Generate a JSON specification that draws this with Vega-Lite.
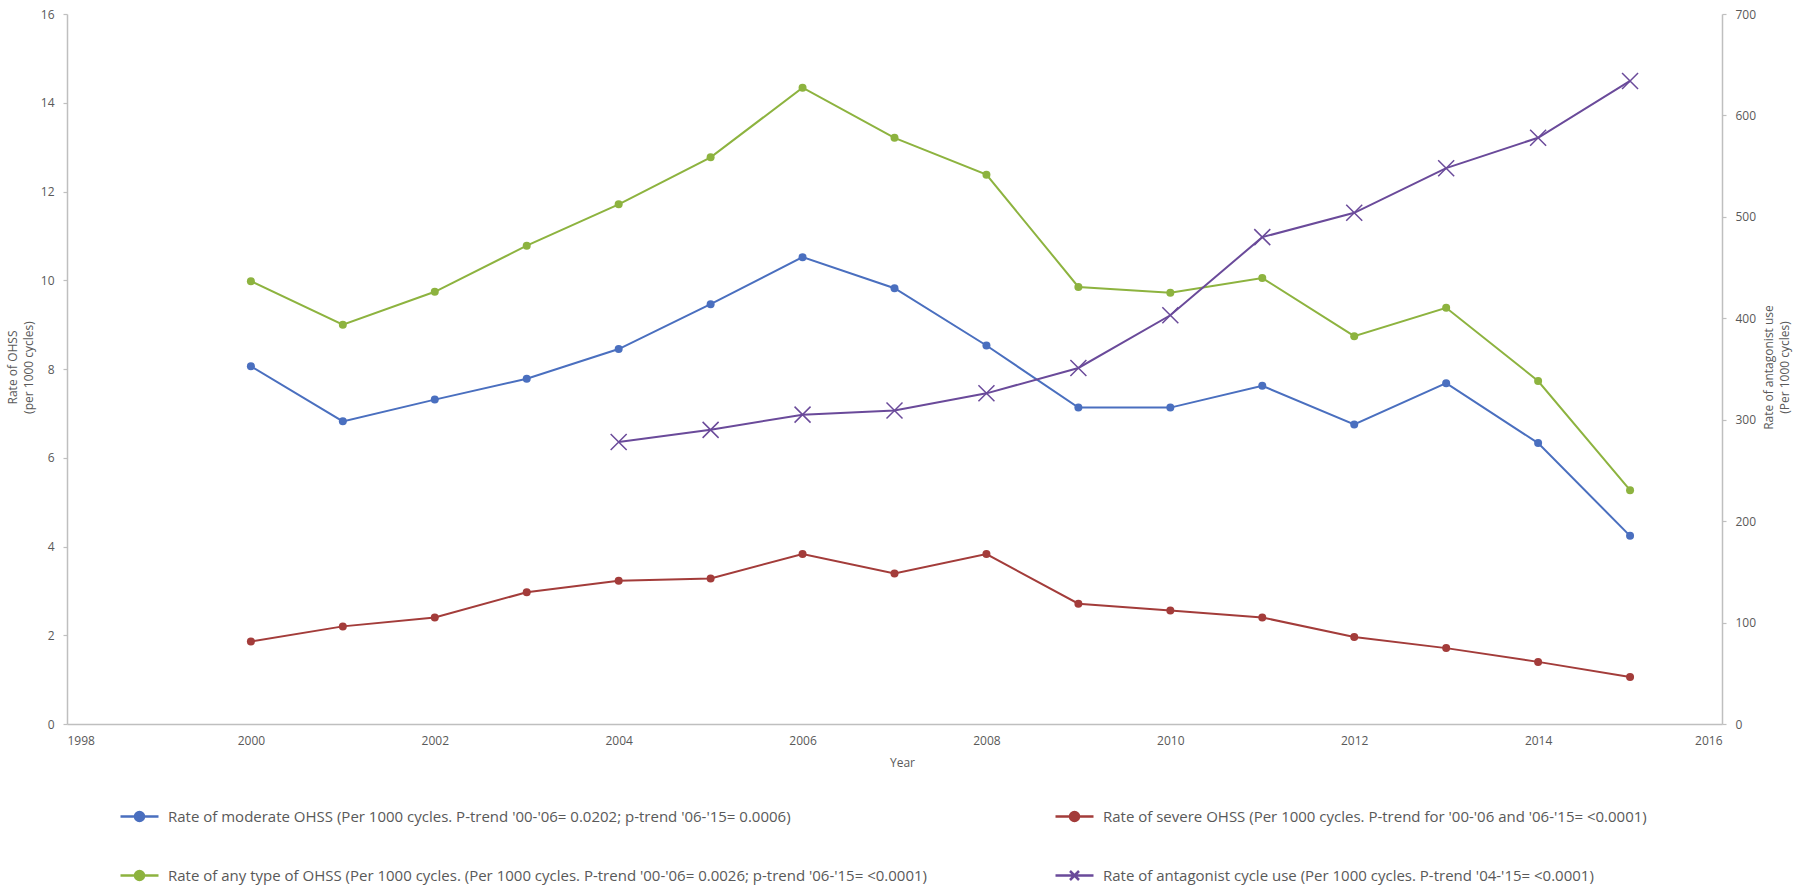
{
  "$schema": "https://vega.github.io/schema/vega-lite/v6.json",
  "width": 1655,
  "height": 710,
  "autosize": "none",
  "padding": {"left": 67, "top": 14, "right": 78, "bottom": 171},
  "background": "white",
  "config": {
    "view": {"stroke": null},
    "font": "Open Sans",
    "axis": {
      "domainColor": "#bfbfbf",
      "domainWidth": 1.5,
      "tickColor": "#bfbfbf",
      "tickWidth": 1.2,
      "labelFont": "Open Sans",
      "labelFontSize": 12,
      "labelColor": "#595959",
      "titleFont": "Open Sans",
      "titleFontSize": 12,
      "titleFontWeight": "normal",
      "titleColor": "#595959",
      "grid": false
    },
    "legend": {
      "columnPadding": 123,
      "rowPadding": 38,
      "padding": 0,
      "symbolSize": 400,
      "symbolStrokeWidth": 2.5,
      "labelOffset": 17,
      "labelFont": "Open Sans",
      "labelFontSize": 15,
      "labelColor": "#595959",
      "labelLimit": 2000
    }
  },
  "datasets": {
    "ohss": [
      {"year": 2000, "series": "Rate of moderate OHSS (Per 1000 cycles. P-trend '00-'06= 0.0202; p-trend '06-'15= 0.0006)", "rate": 8.06},
      {"year": 2001, "series": "Rate of moderate OHSS (Per 1000 cycles. P-trend '00-'06= 0.0202; p-trend '06-'15= 0.0006)", "rate": 6.82},
      {"year": 2002, "series": "Rate of moderate OHSS (Per 1000 cycles. P-trend '00-'06= 0.0202; p-trend '06-'15= 0.0006)", "rate": 7.31},
      {"year": 2003, "series": "Rate of moderate OHSS (Per 1000 cycles. P-trend '00-'06= 0.0202; p-trend '06-'15= 0.0006)", "rate": 7.78},
      {"year": 2004, "series": "Rate of moderate OHSS (Per 1000 cycles. P-trend '00-'06= 0.0202; p-trend '06-'15= 0.0006)", "rate": 8.45},
      {"year": 2005, "series": "Rate of moderate OHSS (Per 1000 cycles. P-trend '00-'06= 0.0202; p-trend '06-'15= 0.0006)", "rate": 9.46},
      {"year": 2006, "series": "Rate of moderate OHSS (Per 1000 cycles. P-trend '00-'06= 0.0202; p-trend '06-'15= 0.0006)", "rate": 10.52},
      {"year": 2007, "series": "Rate of moderate OHSS (Per 1000 cycles. P-trend '00-'06= 0.0202; p-trend '06-'15= 0.0006)", "rate": 9.82},
      {"year": 2008, "series": "Rate of moderate OHSS (Per 1000 cycles. P-trend '00-'06= 0.0202; p-trend '06-'15= 0.0006)", "rate": 8.53},
      {"year": 2009, "series": "Rate of moderate OHSS (Per 1000 cycles. P-trend '00-'06= 0.0202; p-trend '06-'15= 0.0006)", "rate": 7.13},
      {"year": 2010, "series": "Rate of moderate OHSS (Per 1000 cycles. P-trend '00-'06= 0.0202; p-trend '06-'15= 0.0006)", "rate": 7.13},
      {"year": 2011, "series": "Rate of moderate OHSS (Per 1000 cycles. P-trend '00-'06= 0.0202; p-trend '06-'15= 0.0006)", "rate": 7.62},
      {"year": 2012, "series": "Rate of moderate OHSS (Per 1000 cycles. P-trend '00-'06= 0.0202; p-trend '06-'15= 0.0006)", "rate": 6.75},
      {"year": 2013, "series": "Rate of moderate OHSS (Per 1000 cycles. P-trend '00-'06= 0.0202; p-trend '06-'15= 0.0006)", "rate": 7.68},
      {"year": 2014, "series": "Rate of moderate OHSS (Per 1000 cycles. P-trend '00-'06= 0.0202; p-trend '06-'15= 0.0006)", "rate": 6.33},
      {"year": 2015, "series": "Rate of moderate OHSS (Per 1000 cycles. P-trend '00-'06= 0.0202; p-trend '06-'15= 0.0006)", "rate": 4.24},
      {"year": 2000, "series": "Rate of severe OHSS (Per 1000 cycles. P-trend for '00-'06 and '06-'15= <0.0001)", "rate": 1.86},
      {"year": 2001, "series": "Rate of severe OHSS (Per 1000 cycles. P-trend for '00-'06 and '06-'15= <0.0001)", "rate": 2.2},
      {"year": 2002, "series": "Rate of severe OHSS (Per 1000 cycles. P-trend for '00-'06 and '06-'15= <0.0001)", "rate": 2.4},
      {"year": 2003, "series": "Rate of severe OHSS (Per 1000 cycles. P-trend for '00-'06 and '06-'15= <0.0001)", "rate": 2.97},
      {"year": 2004, "series": "Rate of severe OHSS (Per 1000 cycles. P-trend for '00-'06 and '06-'15= <0.0001)", "rate": 3.23},
      {"year": 2005, "series": "Rate of severe OHSS (Per 1000 cycles. P-trend for '00-'06 and '06-'15= <0.0001)", "rate": 3.28},
      {"year": 2006, "series": "Rate of severe OHSS (Per 1000 cycles. P-trend for '00-'06 and '06-'15= <0.0001)", "rate": 3.83},
      {"year": 2007, "series": "Rate of severe OHSS (Per 1000 cycles. P-trend for '00-'06 and '06-'15= <0.0001)", "rate": 3.39},
      {"year": 2008, "series": "Rate of severe OHSS (Per 1000 cycles. P-trend for '00-'06 and '06-'15= <0.0001)", "rate": 3.83},
      {"year": 2009, "series": "Rate of severe OHSS (Per 1000 cycles. P-trend for '00-'06 and '06-'15= <0.0001)", "rate": 2.71},
      {"year": 2010, "series": "Rate of severe OHSS (Per 1000 cycles. P-trend for '00-'06 and '06-'15= <0.0001)", "rate": 2.56},
      {"year": 2011, "series": "Rate of severe OHSS (Per 1000 cycles. P-trend for '00-'06 and '06-'15= <0.0001)", "rate": 2.4},
      {"year": 2012, "series": "Rate of severe OHSS (Per 1000 cycles. P-trend for '00-'06 and '06-'15= <0.0001)", "rate": 1.96},
      {"year": 2013, "series": "Rate of severe OHSS (Per 1000 cycles. P-trend for '00-'06 and '06-'15= <0.0001)", "rate": 1.71},
      {"year": 2014, "series": "Rate of severe OHSS (Per 1000 cycles. P-trend for '00-'06 and '06-'15= <0.0001)", "rate": 1.4},
      {"year": 2015, "series": "Rate of severe OHSS (Per 1000 cycles. P-trend for '00-'06 and '06-'15= <0.0001)", "rate": 1.06},
      {"year": 2000, "series": "Rate of any type of OHSS (Per 1000 cycles. (Per 1000 cycles. P-trend '00-'06= 0.0026; p-trend '06-'15= <0.0001)", "rate": 9.98},
      {"year": 2001, "series": "Rate of any type of OHSS (Per 1000 cycles. (Per 1000 cycles. P-trend '00-'06= 0.0026; p-trend '06-'15= <0.0001)", "rate": 9.0},
      {"year": 2002, "series": "Rate of any type of OHSS (Per 1000 cycles. (Per 1000 cycles. P-trend '00-'06= 0.0026; p-trend '06-'15= <0.0001)", "rate": 9.74},
      {"year": 2003, "series": "Rate of any type of OHSS (Per 1000 cycles. (Per 1000 cycles. P-trend '00-'06= 0.0026; p-trend '06-'15= <0.0001)", "rate": 10.78},
      {"year": 2004, "series": "Rate of any type of OHSS (Per 1000 cycles. (Per 1000 cycles. P-trend '00-'06= 0.0026; p-trend '06-'15= <0.0001)", "rate": 11.71},
      {"year": 2005, "series": "Rate of any type of OHSS (Per 1000 cycles. (Per 1000 cycles. P-trend '00-'06= 0.0026; p-trend '06-'15= <0.0001)", "rate": 12.77},
      {"year": 2006, "series": "Rate of any type of OHSS (Per 1000 cycles. (Per 1000 cycles. P-trend '00-'06= 0.0026; p-trend '06-'15= <0.0001)", "rate": 14.34},
      {"year": 2007, "series": "Rate of any type of OHSS (Per 1000 cycles. (Per 1000 cycles. P-trend '00-'06= 0.0026; p-trend '06-'15= <0.0001)", "rate": 13.21},
      {"year": 2008, "series": "Rate of any type of OHSS (Per 1000 cycles. (Per 1000 cycles. P-trend '00-'06= 0.0026; p-trend '06-'15= <0.0001)", "rate": 12.38},
      {"year": 2009, "series": "Rate of any type of OHSS (Per 1000 cycles. (Per 1000 cycles. P-trend '00-'06= 0.0026; p-trend '06-'15= <0.0001)", "rate": 9.85},
      {"year": 2010, "series": "Rate of any type of OHSS (Per 1000 cycles. (Per 1000 cycles. P-trend '00-'06= 0.0026; p-trend '06-'15= <0.0001)", "rate": 9.72},
      {"year": 2011, "series": "Rate of any type of OHSS (Per 1000 cycles. (Per 1000 cycles. P-trend '00-'06= 0.0026; p-trend '06-'15= <0.0001)", "rate": 10.05},
      {"year": 2012, "series": "Rate of any type of OHSS (Per 1000 cycles. (Per 1000 cycles. P-trend '00-'06= 0.0026; p-trend '06-'15= <0.0001)", "rate": 8.74},
      {"year": 2013, "series": "Rate of any type of OHSS (Per 1000 cycles. (Per 1000 cycles. P-trend '00-'06= 0.0026; p-trend '06-'15= <0.0001)", "rate": 9.38},
      {"year": 2014, "series": "Rate of any type of OHSS (Per 1000 cycles. (Per 1000 cycles. P-trend '00-'06= 0.0026; p-trend '06-'15= <0.0001)", "rate": 7.73},
      {"year": 2015, "series": "Rate of any type of OHSS (Per 1000 cycles. (Per 1000 cycles. P-trend '00-'06= 0.0026; p-trend '06-'15= <0.0001)", "rate": 5.27}
    ],
    "antag": [
      {"year": 2004, "series": "Rate of antagonist cycle use (Per 1000 cycles. P-trend '04-'15= <0.0001)", "rate": 278},
      {"year": 2005, "series": "Rate of antagonist cycle use (Per 1000 cycles. P-trend '04-'15= <0.0001)", "rate": 290},
      {"year": 2006, "series": "Rate of antagonist cycle use (Per 1000 cycles. P-trend '04-'15= <0.0001)", "rate": 305},
      {"year": 2007, "series": "Rate of antagonist cycle use (Per 1000 cycles. P-trend '04-'15= <0.0001)", "rate": 309},
      {"year": 2008, "series": "Rate of antagonist cycle use (Per 1000 cycles. P-trend '04-'15= <0.0001)", "rate": 326},
      {"year": 2009, "series": "Rate of antagonist cycle use (Per 1000 cycles. P-trend '04-'15= <0.0001)", "rate": 351},
      {"year": 2010, "series": "Rate of antagonist cycle use (Per 1000 cycles. P-trend '04-'15= <0.0001)", "rate": 403},
      {"year": 2011, "series": "Rate of antagonist cycle use (Per 1000 cycles. P-trend '04-'15= <0.0001)", "rate": 480},
      {"year": 2012, "series": "Rate of antagonist cycle use (Per 1000 cycles. P-trend '04-'15= <0.0001)", "rate": 504},
      {"year": 2013, "series": "Rate of antagonist cycle use (Per 1000 cycles. P-trend '04-'15= <0.0001)", "rate": 548},
      {"year": 2014, "series": "Rate of antagonist cycle use (Per 1000 cycles. P-trend '04-'15= <0.0001)", "rate": 578},
      {"year": 2015, "series": "Rate of antagonist cycle use (Per 1000 cycles. P-trend '04-'15= <0.0001)", "rate": 634}
    ]
  },
  "layer": [
    {
      "data": {"name": "ohss"},
      "encoding": {
        "x": {
          "field": "year", "type": "quantitative",
          "scale": {"domain": [1998, 2016], "nice": false, "zero": false},
          "axis": {
            "values": [1998, 2000, 2002, 2004, 2006, 2008, 2010, 2012, 2014, 2016],
            "format": "d", "ticks": false, "labelPadding": 11,
            "title": "Year", "titleX": 835, "titleY": 38, "titleBaseline": "middle"
          }
        },
        "y": {
          "field": "rate", "type": "quantitative",
          "scale": {"domain": [0, 16], "nice": false},
          "axis": {
            "orient": "left",
            "values": [0, 2, 4, 6, 8, 10, 12, 14, 16],
            "tickSize": 4, "labelPadding": 9,
            "title": ["Rate of OHSS", "(per 1000 cycles)"],
            "titleAngle": -90, "titleX": -60, "titleY": 353,
            "titleAlign": "center", "titleBaseline": "top", "titleLineHeight": 16
          }
        }
      },
      "layer": [
        {
          "mark": {"type": "line", "strokeWidth": 2},
          "encoding": {
            "color": {
              "field": "series", "type": "nominal", "legend": null,
              "scale": {
                "domain": [
                  "Rate of antagonist cycle use (Per 1000 cycles. P-trend '04-'15= <0.0001)",
                  "Rate of any type of OHSS (Per 1000 cycles. (Per 1000 cycles. P-trend '00-'06= 0.0026; p-trend '06-'15= <0.0001)",
                  "Rate of moderate OHSS (Per 1000 cycles. P-trend '00-'06= 0.0202; p-trend '06-'15= 0.0006)",
                  "Rate of severe OHSS (Per 1000 cycles. P-trend for '00-'06 and '06-'15= <0.0001)"
                ],
                "range": ["#6a4a9a", "#8db33f", "#4a6fbf", "#a33c3a"]
              }
            }
          }
        },
        {
          "mark": {"type": "point", "filled": true, "opacity": 1, "size": 64, "shape": "circle"},
          "encoding": {
            "color": {"field": "series", "type": "nominal", "legend": null}
          }
        },
        {
          "transform": [{"filter": "datum.year < 0"}],
          "mark": {"type": "point", "filled": true, "opacity": 1},
          "encoding": {
            "fill": {
              "field": "series", "type": "nominal",
              "scale": {
                "domain": [
                  "Rate of moderate OHSS (Per 1000 cycles. P-trend '00-'06= 0.0202; p-trend '06-'15= 0.0006)",
                  "Rate of any type of OHSS (Per 1000 cycles. (Per 1000 cycles. P-trend '00-'06= 0.0026; p-trend '06-'15= <0.0001)",
                  "Rate of severe OHSS (Per 1000 cycles. P-trend for '00-'06 and '06-'15= <0.0001)",
                  "Rate of antagonist cycle use (Per 1000 cycles. P-trend '04-'15= <0.0001)"
                ],
                "range": ["#4a6fbf", "#8db33f", "#a33c3a", "#6a4a9a"]
              },
              "legend": {"orient": "none", "legendX": 61, "legendY": 791, "columns": 2, "title": null}
            },
            "stroke": {
              "field": "series", "type": "nominal",
              "scale": {
                "domain": [
                  "Rate of moderate OHSS (Per 1000 cycles. P-trend '00-'06= 0.0202; p-trend '06-'15= 0.0006)",
                  "Rate of any type of OHSS (Per 1000 cycles. (Per 1000 cycles. P-trend '00-'06= 0.0026; p-trend '06-'15= <0.0001)",
                  "Rate of severe OHSS (Per 1000 cycles. P-trend for '00-'06 and '06-'15= <0.0001)",
                  "Rate of antagonist cycle use (Per 1000 cycles. P-trend '04-'15= <0.0001)"
                ],
                "range": ["#4a6fbf", "#8db33f", "#a33c3a", "#6a4a9a"]
              },
              "legend": {"orient": "none", "legendX": 61, "legendY": 791, "columns": 2, "title": null}
            },
            "shape": {
              "field": "series", "type": "nominal",
              "scale": {
                "domain": [
                  "Rate of moderate OHSS (Per 1000 cycles. P-trend '00-'06= 0.0202; p-trend '06-'15= 0.0006)",
                  "Rate of any type of OHSS (Per 1000 cycles. (Per 1000 cycles. P-trend '00-'06= 0.0026; p-trend '06-'15= <0.0001)",
                  "Rate of severe OHSS (Per 1000 cycles. P-trend for '00-'06 and '06-'15= <0.0001)",
                  "Rate of antagonist cycle use (Per 1000 cycles. P-trend '04-'15= <0.0001)"
                ],
                "range": [
                  "M-1.9,0H1.9M0.45,0A0.45,0.45,0,1,1,-0.45,0A0.45,0.45,0,1,1,0.45,0Z",
                  "M-1.9,0H1.9M0.45,0A0.45,0.45,0,1,1,-0.45,0A0.45,0.45,0,1,1,0.45,0Z",
                  "M-1.9,0H1.9M0.45,0A0.45,0.45,0,1,1,-0.45,0A0.45,0.45,0,1,1,0.45,0Z",
                  "M-1.9,0H1.9M-0.45,-0.45L0.45,0.45M-0.45,0.45L0.45,-0.45"
                ]
              },
              "legend": {"orient": "none", "legendX": 61, "legendY": 791, "columns": 2, "title": null}
            }
          }
        }
      ]
    },
    {
      "data": {"name": "antag"},
      "encoding": {
        "x": {"field": "year", "type": "quantitative"},
        "y": {
          "field": "rate", "type": "quantitative",
          "scale": {"domain": [0, 700], "nice": false},
          "axis": {
            "orient": "right",
            "values": [0, 100, 200, 300, 400, 500, 600, 700],
            "tickSize": 4, "labelPadding": 9,
            "title": ["Rate of antagonist use", "(Per 1000 cycles)"],
            "titleAngle": -90, "titleX": 41, "titleY": 353,
            "titleAlign": "center", "titleBaseline": "top", "titleLineHeight": 16
          }
        }
      },
      "layer": [
        {
          "mark": {"type": "line", "strokeWidth": 2},
          "encoding": {
            "color": {"field": "series", "type": "nominal", "legend": null}
          }
        },
        {
          "mark": {"type": "point", "filled": false, "opacity": 1, "size": 256, "strokeWidth": 1.5, "shape": "M-1,-1L1,1M-1,1L1,-1"},
          "encoding": {
            "color": {"field": "series", "type": "nominal", "legend": null}
          }
        }
      ]
    }
  ],
  "resolve": {"scale": {"y": "independent"}, "axis": {"y": "independent"}}
}
